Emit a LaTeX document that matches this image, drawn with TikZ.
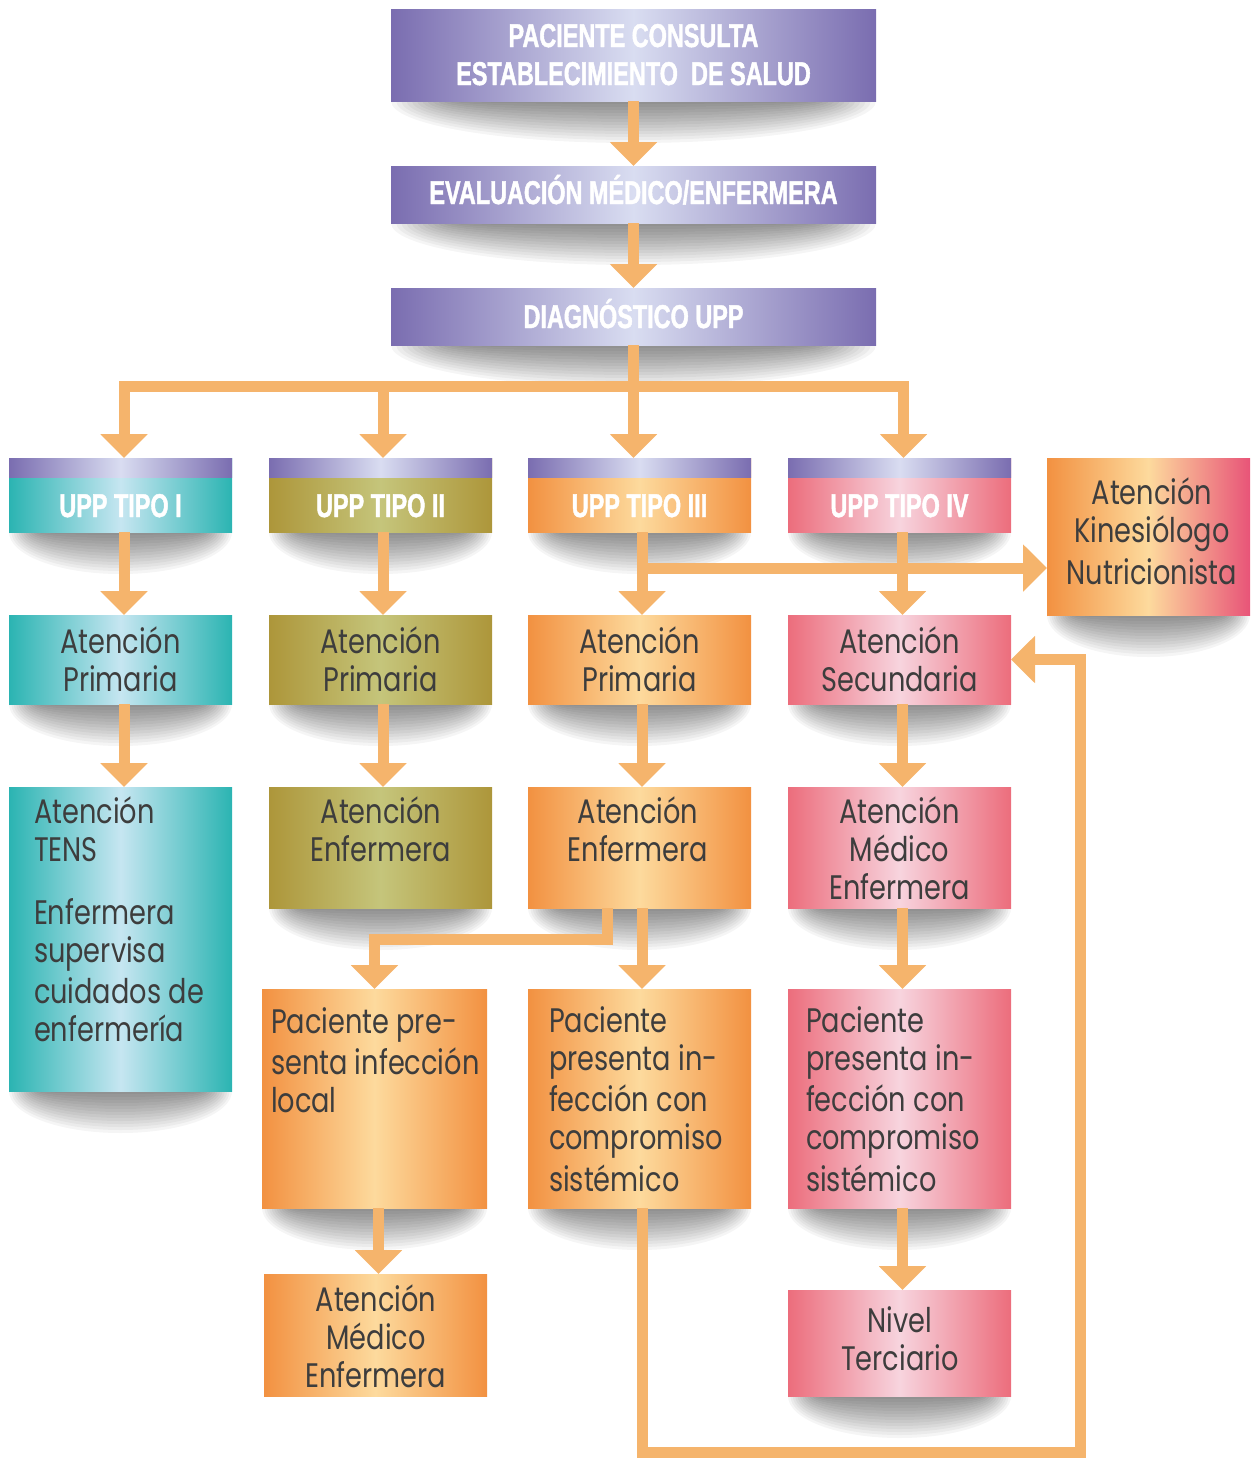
\documentclass[tikz,border=0pt]{standalone}
\usepackage{fontspec}
\setmainfont{Poppins}[FakeStretch=0.8]
\newfontfamily\headfont{Liberation Sans}[FakeStretch=0.71,FakeBold=1.3]
\usetikzlibrary{arrows.meta}
\definecolor{pE}{HTML}{7A6DB0}
\definecolor{pC}{HTML}{D9DDF1}
\definecolor{tE}{HTML}{2BB4B2}
\definecolor{tC}{HTML}{C6E6F1}
\definecolor{oE}{HTML}{AD963A}
\definecolor{oC}{HTML}{C5C57B}
\definecolor{rE}{HTML}{F29141}
\definecolor{rC}{HTML}{FDDA9D}
\definecolor{kE}{HTML}{EC6D7C}
\definecolor{kC}{HTML}{F7D4DE}
\definecolor{kR}{HTML}{E85478}
\definecolor{arrc}{HTML}{F5B46C}
\definecolor{txt}{HTML}{3D3D3D}
\tikzset{
  box/.style={draw=none,inner sep=0pt,outer sep=0pt,rectangle},
  purp/.style={left color=pE,right color=pE,middle color=pC},
  teal/.style={left color=tE,right color=tE,middle color=tC},
  oliv/.style={left color=oE,right color=oE,middle color=oC},
  orng/.style={left color=rE,right color=rE,middle color=rC},
  pink/.style={left color=kE,right color=kE,middle color=kC},
  kino/.style={left color=rE,right color=kR,middle color=rC},
  arr/.style={draw=arrc,line width=5.5pt,line join=miter,-{Triangle[width=23pt,length=12pt]}},
  body/.style={inner sep=0pt,outer sep=0pt,text=txt,font=\fontsize{17}{19}\selectfont},
  hd/.style={inner sep=0pt,outer sep=0pt,text=white,align=center,font=\headfont\bfseries\fontsize{16.5}{19}\selectfont}
}
\newcommand\bx[6]{\node[box,#6,minimum width={(#4-#2)*0.5pt},minimum height={(#5-#3)*0.5pt}] (#1) at ({(#2+#4)/2},{-(#3+#5)/2}) {};}
\newcommand\shd[3]{\begin{scope}\clip (#1-20,-#3) rectangle (#2+20,-#3-70);
  \foreach \k in {1,...,14}{\fill[black,opacity=0.038] ({(#1+#2)/2},-#3) ellipse [x radius={(#2-#1)*0.25pt*(0.7+0.3*\k/14)}, y radius={21pt*\k/14}];}
  \end{scope}}
\newcommand\st{\vrule height 15.5pt depth 3.5pt width 0pt}
\begin{document}
\begin{tikzpicture}[x=0.5pt,y=0.5pt]
\useasboundingbox (0,0) rectangle (1250,-1458);
% shadows
\shd{391}{876}{101}
\shd{391}{876}{223}
\shd{391}{876}{345}
\shd{9}{232}{532}\shd{269}{492}{532}\shd{528}{751}{532}\shd{788}{1011}{532}
\shd{1047}{1250}{615}
\shd{9}{232}{704}\shd{269}{492}{704}\shd{528}{751}{704}\shd{788}{1011}{704}
\shd{9}{232}{1091}\shd{269}{492}{908}\shd{528}{751}{908}\shd{788}{1011}{908}
\shd{262}{487}{1208}\shd{528}{751}{1208}\shd{788}{1011}{1208}
\shd{788}{1011}{1396}
% boxes
\bx{top}{391}{9}{876}{101}{purp}
\bx{eval}{391}{166}{876}{223}{purp}
\bx{diag}{391}{288}{876}{345}{purp}
\bx{u1}{9}{458}{232}{532}{teal}
\bx{u2}{269}{458}{492}{532}{oliv}
\bx{u3}{528}{458}{751}{532}{orng}
\bx{u4}{788}{458}{1011}{532}{pink}
\foreach \u in {u1,u2,u3,u4}{\shade[purp] (\u.north west) rectangle ([yshift=-9.5pt]\u.north east);}
\bx{kin}{1047}{458}{1250}{615}{kino}
\bx{ap1}{9}{615}{232}{704}{teal}
\bx{ap2}{269}{615}{492}{704}{oliv}
\bx{ap3}{528}{615}{751}{704}{orng}
\bx{as4}{788}{615}{1011}{704}{pink}
\bx{tens}{9}{787}{232}{1091}{teal}
\bx{ae2}{269}{787}{492}{908}{oliv}
\bx{ae3}{528}{787}{751}{908}{orng}
\bx{am4}{788}{787}{1011}{908}{pink}
\bx{pl2}{262}{989}{487}{1208}{orng}
\bx{pc3}{528}{989}{751}{1208}{orng}
\bx{pc4}{788}{989}{1011}{1208}{pink}
\bx{am2}{264}{1274}{487}{1396}{orng}
\bx{nt}{788}{1290}{1011}{1396}{pink}
% header texts
\node[hd] (ttop) at (633.5,-54) {\st PACIENTE CONSULTA\\\st ESTABLECIMIENTO\hspace{0.2em} DE SALUD};
\node[hd] (teval) at (633.5,-192) {\st EVALUACIÓN MÉDICO/ENFERMERA};
\node[hd] (tdiag) at (633.5,-316) {\st DIAGNÓSTICO UPP};
\node[hd] (tu1) at (120.5,-505) {\st UPP TIPO I};
\node[hd] (tu2) at (380.5,-505) {\st UPP TIPO II};
\node[hd] (tu3) at (639.5,-505) {\st UPP TIPO III};
\node[hd] (tu4) at (899.5,-505) {\st UPP TIPO IV};
% body texts
\node[body,align=center] (tkin) at (1152,-532.5) {\st Atención\\\st Kinesiólogo\\\st Nutricionista};
\node[body,align=center] (tap1) at (120.5,-660) {\st Atención\\\st Primaria};
\node[body,align=center] (tap2) at (380.5,-660) {\st Atención\\\st Primaria};
\node[body,align=center] (tap3) at (639.5,-660) {\st Atención\\\st Primaria};
\node[body,align=center] (tas4) at (899.5,-660) {\st Atención\\\st Secundaria};
\node[body,align=left,anchor=north west] (ttens1) at (34,-792) {\st Atención\\\st TENS};
\node[body,align=left,anchor=north west] (ttens2) at (34,-893) {\st Enfermera\\\st supervisa\\\st cuidados de\\\st enfermería};
\node[body,align=center,anchor=north] (tae2) at (381,-792) {\st Atención\\\st Enfermera};
\node[body,align=center,anchor=north] (tae3) at (638,-792) {\st Atención\\\st Enfermera};
\node[body,align=center,anchor=north] (tam4) at (899.5,-792) {\st Atención\\\st Médico\\\st Enfermera};
\node[body,align=left,anchor=north west] (tpl2) at (271,-1002) {\st Paciente pre-\\\st senta infección\\\st local};
\node[body,align=left,anchor=north west] (tpc3) at (549,-1001) {\st Paciente\\\st presenta in-\\\st fección con\\\st compromiso\\\st sistémico};
\node[body,align=left,anchor=north west] (tpc4) at (806,-1001) {\st Paciente\\\st presenta in-\\\st fección con\\\st compromiso\\\st sistémico};
\node[body,align=center] (tam2) at (376,-1337) {\st Atención\\\st Médico\\\st Enfermera};
\node[body,align=center] (tnt) at (900,-1339.5) {\st Nivel\\\st Terciario};
% connectors
\draw[arr] (top.south) -- (eval.north);
\draw[arr] (eval.south) -- (diag.north);
\coordinate (hub) at (633.5,-386);
\draw[arr] (diag.south) -- (hub) -| ([xshift=1.75pt]u1.north);
\draw[arr] (hub) -| ([xshift=1.25pt]u2.north);
\draw[arr] (hub) -- ([xshift=-3pt]u3.north);
\draw[arr] (hub) -| ([xshift=2pt]u4.north);
\draw[arr] ([xshift=1.75pt]u1.south) -- ([xshift=1.75pt]ap1.north);
\draw[arr] ([xshift=1.25pt]u2.south) -- ([xshift=1.25pt]ap2.north);
\draw[arr] ([xshift=1.25pt]u3.south) -- ([xshift=1.25pt]ap3.north);
\draw[arr] ([xshift=1.5pt]u4.south) -- ([xshift=1.5pt]as4.north);
\coordinate (br3) at (642,-568);
\draw[arr] (br3) -- (kin.west |- br3);
\draw[arr] ([xshift=1.75pt]ap1.south) -- ([xshift=1.75pt]tens.north);
\draw[arr] ([xshift=1.25pt]ap2.south) -- ([xshift=1.25pt]ae2.north);
\draw[arr] ([xshift=1.25pt]ap3.south) -- ([xshift=1.25pt]ae3.north);
\draw[arr] ([xshift=1.5pt]as4.south) -- ([xshift=1.5pt]am4.north);
\draw[arr] ([xshift=1.25pt]ae3.south) -- ([xshift=1.25pt]pc3.north);
\coordinate (j1) at (607,-939);
\draw[arr] ([xshift=-16.25pt]ae3.south) -- (j1) -| (pl2.north);
\draw[arr] ([xshift=1.5pt]am4.south) -- ([xshift=1.5pt]pc4.north);
\draw[arr] ([xshift=2pt]pl2.south) -- ([xshift=2pt]pl2.south |- am2.north);
\draw[arr] ([xshift=1.5pt]pc4.south) -- ([xshift=1.5pt]nt.north);
\coordinate (lb) at (642,-1452);
\coordinate (lr) at (1080,-1452);
\coordinate (lup) at (1080,-659.5);
\draw[arr] ([xshift=1.25pt]pc3.south) -- (lb) -- (lr) -- (lup) -- (as4.east);
\end{tikzpicture}
\end{document}
